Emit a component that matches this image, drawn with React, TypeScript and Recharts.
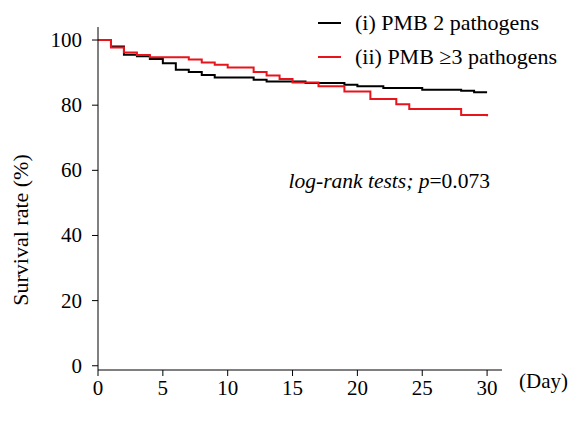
import React from 'react';
import { LineChart, Line, XAxis, YAxis } from 'recharts';

// Kaplan-Meier steps (day, survival %)
const pmb2Days = [0, 1, 2, 3, 4, 5, 6, 7, 8, 9, 12, 13, 16, 19, 20, 22, 25, 28, 29, 30];
const pmb2Surv = [100, 98.0, 95.5, 95.0, 94.2, 92.9, 90.9, 90.2, 89.3, 88.5, 87.8, 87.3, 86.8, 86.3, 85.8, 85.3, 84.7, 84.4, 84.0, 84.0];

const pmb3Days = [0, 1, 2, 3, 4, 7, 8, 9, 10, 12, 13, 14, 15, 17, 19, 21, 23, 24, 28, 30];
const pmb3Surv = [100, 97.7, 96.2, 95.4, 94.7, 94.0, 93.1, 92.4, 91.6, 90.2, 89.1, 88.0, 87.0, 85.8, 84.2, 81.9, 80.3, 78.8, 77.0, 76.6];

const xTicks = [0, 5, 10, 15, 20, 25, 30];
const yTicks = [0, 20, 40, 60, 80, 100];

const seriesNames = ['(i) PMB 2 pathogens', '(ii) PMB \u22653 pathogens'];
const seriesColors = ['#000000', '#e8141b'];

const serif = { fontFamily: 'Liberation Serif' };

const pmb2Data = pmb2Days.map((d, i) => ({ day: d, surv: pmb2Surv[i] }));
const pmb3Data = pmb3Days.map((d, i) => ({ day: d, surv: pmb3Surv[i] }));

const XTick = (props: any) => {
    const { x, y, payload } = props;
    return (
        <text x={x} y={y + 17} textAnchor="middle" style={serif} fontSize={21} fill="#000">
            {payload.value}
        </text>
    );
};

const YTick = (props: any) => {
    const { x, y, payload } = props;
    return (
        <text x={x - 8} y={y + 7} textAnchor="end" style={serif} fontSize={21} fill="#000">
            {payload.value}
        </text>
    );
};

const App: React.FC = () => {
    return (
        <div style={{ position: 'absolute', left: 0, top: 0, width: 570, height: 421, background: '#fff', fontFamily: 'Liberation Serif' }}>
            <LineChart width={570} height={421} margin={{ top: 27, right: 68, bottom: 0, left: 0 }} style={serif}>
                <XAxis
                    dataKey="day"
                    type="number"
                    domain={[0, 31.15]}
                    ticks={xTicks}
                    allowDataOverflow
                    height={51}
                    stroke="#000"
                    tickSize={6}
                    tick={<XTick />}
                />
                <YAxis
                    type="number"
                    domain={[-1.3, 104]}
                    ticks={yTicks}
                    allowDataOverflow
                    width={98}
                    stroke="#000"
                    tickSize={6}
                    tick={<YTick />}
                />
                <Line data={pmb2Data} dataKey="surv" name={seriesNames[0]} type="stepAfter" stroke={seriesColors[0]} strokeWidth={2} dot={false} isAnimationActive={false} />
                <Line data={pmb3Data} dataKey="surv" name={seriesNames[1]} type="stepAfter" stroke={seriesColors[1]} strokeWidth={2} dot={false} isAnimationActive={false} />
                {seriesNames.map((name, i) => (
                    <g key={name}>
                        <line x1={318} x2={341} y1={23 + i * 34} y2={23 + i * 34} stroke={seriesColors[i]} strokeWidth={2} />
                        <text x={355} y={30 + i * 34} style={serif} fontSize={22} fill="#000">
                            {name}
                        </text>
                    </g>
                ))}
                <text x={20} y={230} transform="rotate(-90 20 230)" textAnchor="middle" dominantBaseline="central" style={serif} fontSize={22} fill="#000">
                    Survival rate (%)
                </text>
                <text x={490} y={188} textAnchor="end" style={serif} fontSize={21.5} fill="#000">
                    <tspan fontStyle="italic">log-rank tests; p</tspan>=0.073
                </text>
                <text x={519} y={388} style={serif} fontSize={21} fill="#000">
                    (Day)
                </text>
            </LineChart>
        </div>
    );
};

export default App;
